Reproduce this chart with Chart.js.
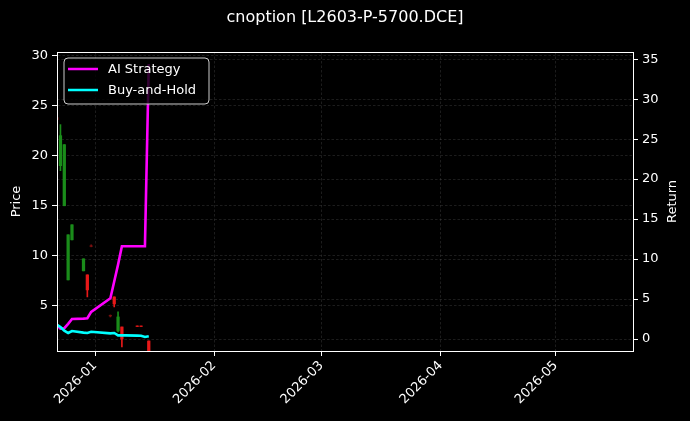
<!DOCTYPE html>
<html><head><meta charset="utf-8">
<script src="https://cdn.jsdelivr.net/npm/chart.js@4.4.1/dist/chart.umd.min.js"></script>
<style>html,body{margin:0;padding:0;background:#000;overflow:hidden}#wrap{width:690px;height:421px}</style>
</head><body><div id="wrap"><canvas id="c" width="690" height="421"></canvas></div>
<script>
// ---- data (day offsets from 2026-01-01) ----
const TITLE = 'cnoption [L2603-P-5700.DCE]';
const SERIES_NAMES = ['AI Strategy', 'Buy-and-Hold'];
const candleDays = [-10, -9, -8, -7, -6, -3, -2, -1, 4, 5, 6, 7, 11, 12, 14];
const opens  = [23.8, 19.0, 15.0, 7.6, 11.6, 8.5, 8.1, 11.0, 4.05, 5.9, 2.5, 2.9, 3.0, 3.0, 1.5];
const highs  = [28.4, 23.1, 21.1, 12.1, 13.1, 9.7, 8.1, 11.1, 4.1, 5.9, 4.4, 2.9, 3.0, 3.0, 1.5];
const lows   = [23.6, 18.5, 15.0, 7.6, 11.6, 8.5, 5.9, 10.9, 3.9, 4.9, 2.4, 0.9, 2.95, 2.95, 0.3];
const closes = [23.6, 22.0, 21.1, 12.1, 13.1, 9.7, 6.6, 10.95, 4.0, 5.2, 3.9, 1.7, 2.95, 2.95, 0.5];
const returnDays = [-10, -9, -8, -7, -6, -3, -2, -1, 4, 5, 6, 7, 8, 11, 12, 13, 14];
const aiReturn = [1.8, 1.3, 1.35, 1.9, 2.5, 2.55, 2.6, 3.4, 5.1, 7.2, 9.3, 11.6, 11.6, 11.6, 11.6, 11.6, 34.4];
const bhReturn = [1.8, 1.5, 1.05, 0.75, 1.0, 0.8, 0.75, 0.9, 0.7, 0.75, 0.45, 0.45, 0.45, 0.42, 0.4, 0.25, 0.35];
const xTickDays = [0, 31, 59, 90, 120];
const xTickLabels = ['2026-01', '2026-02', '2026-03', '2026-04', '2026-05'];
const priceTicks = [5, 10, 15, 20, 25, 30];
const returnTicks = [0, 5, 10, 15, 20, 25, 30, 35];

const UP = '#1a8c1a', DOWN = '#e81818', FAINT = '#7a1010';
const FONT = 'DejaVu Sans';
const candleColors = closes.map((c, i) => {
  const tiny = Math.abs(highs[i] - lows[i]) < 0.3;
  if (tiny && i !== 12 && i !== 13) return FAINT;
  return c >= opens[i] ? UP : DOWN;
});
const bodies = candleDays.map((d, i) => ({x: d, y: [opens[i], closes[i]]}));
const wicks = candleDays.map((d, i) => ({x: d, y: [lows[i], highs[i]]}));
const aiData = returnDays.map((d, i) => ({x: d, y: aiReturn[i]}));
const bhData = returnDays.map((d, i) => ({x: d, y: bhReturn[i]}));

const gridCommon = {color: 'rgba(140,140,140,0.4)', lineWidth: 0.5, tickColor: '#fff', tickLength: 5, tickWidth: 1};
const borderCommon = {color: '#fff', width: 1, dash: [2.5, 2]};

const deco = {
  id: 'deco',
  beforeDraw(chart) {
    const c = chart.ctx;
    c.save(); c.fillStyle = '#000'; c.fillRect(0, 0, chart.width, chart.height); c.restore();
  },
  afterDraw(chart) {
    const c = chart.ctx, a = chart.chartArea;
    c.save();
    c.strokeStyle = '#fff'; c.lineWidth = 1;
    c.strokeRect(Math.round(a.left) + 0.5, Math.round(a.top) + 0.5, Math.round(a.right - a.left), Math.round(a.bottom - a.top));
    c.fillStyle = '#fff'; c.textAlign = 'center'; c.textBaseline = 'middle';
    c.font = '16px "' + FONT + '"';
    c.fillText(TITLE, (a.left + a.right) / 2, 18);
    c.font = '13px "' + FONT + '"';
    const midY = (a.top + a.bottom) / 2;
    c.save(); c.translate(17, midY); c.rotate(-Math.PI / 2); c.fillText('Price', 0, 0); c.restore();
    c.save(); c.translate(673, midY); c.rotate(-Math.PI / 2); c.fillText('Return', 0, 0); c.restore();
    const lx = 64, ly = 58, lw = 145, lh = 46, r = 4;
    c.beginPath();
    c.moveTo(lx + r, ly); c.lineTo(lx + lw - r, ly); c.quadraticCurveTo(lx + lw, ly, lx + lw, ly + r);
    c.lineTo(lx + lw, ly + lh - r); c.quadraticCurveTo(lx + lw, ly + lh, lx + lw - r, ly + lh);
    c.lineTo(lx + r, ly + lh); c.quadraticCurveTo(lx, ly + lh, lx, ly + lh - r);
    c.lineTo(lx, ly + r); c.quadraticCurveTo(lx, ly, lx + r, ly); c.closePath();
    c.fillStyle = 'rgba(0,0,0,0.8)'; c.fill();
    c.strokeStyle = '#cccccc'; c.lineWidth = 1; c.stroke();
    const cols = ['#ff00ff', '#00ffff'];
    const ys = [69, 90];
    c.textAlign = 'left'; c.fillStyle = '#fff';
    SERIES_NAMES.forEach((n, i) => {
      c.strokeStyle = cols[i]; c.lineWidth = 2.5;
      c.beginPath(); c.moveTo(68, ys[i]); c.lineTo(98, ys[i]); c.stroke();
      c.fillText(n, 108, ys[i] + 1);
    });
    c.restore();
  }
};

new Chart(document.getElementById('c'), {
  type: 'bar',
  data: {
    datasets: [
      {type: 'line', label: SERIES_NAMES[1], data: bhData, yAxisID: 'y2', borderColor: '#00ffff', borderWidth: 2.6, pointRadius: 0, tension: 0, order: 0},
      {type: 'line', label: SERIES_NAMES[0], data: aiData, yAxisID: 'y2', borderColor: '#ff00ff', borderWidth: 2.6, pointRadius: 0, tension: 0, order: 1},
      {type: 'bar', label: 'body', data: bodies, yAxisID: 'y', backgroundColor: candleColors, barThickness: 2.6, grouped: false, order: 2},
      {type: 'bar', label: 'wick', data: wicks, yAxisID: 'y', backgroundColor: candleColors, barThickness: 1, grouped: false, order: 3}
    ]
  },
  options: {
    responsive: false, animation: false, devicePixelRatio: 1,
    layout: {padding: {top: 52, left: 0, right: 0, bottom: 0}},
    plugins: {legend: {display: false}, tooltip: {enabled: false}, title: {display: false}},
    scales: {
      x: {
        type: 'linear', min: -9.9, max: 140.1, offset: false,
        grid: Object.assign({offset: false}, gridCommon), border: borderCommon,
        afterBuildTicks: s => { s.ticks = xTickDays.map(v => ({value: v})); },
        afterFit: s => { s.height = 70; },
        ticks: {color: '#fff', font: {family: FONT, size: 13}, minRotation: 45, maxRotation: 45, padding: 2,
          callback: v => { const i = xTickDays.indexOf(v); return i >= 0 ? xTickLabels[i] : ''; }}
      },
      y: {
        type: 'linear', position: 'left', min: 0.5, max: 30.35,
        grid: gridCommon, border: borderCommon,
        afterBuildTicks: s => { s.ticks = priceTicks.map(v => ({value: v})); },
        afterFit: s => { s.width = 57; },
        ticks: {color: '#fff', font: {family: FONT, size: 13}, padding: 4}
      },
      y2: {
        type: 'linear', position: 'right', min: -1.5, max: 35.9,
        grid: gridCommon, border: borderCommon,
        afterBuildTicks: s => { s.ticks = returnTicks.map(v => ({value: v})); },
        afterFit: s => { s.width = 57; },
        ticks: {color: '#fff', font: {family: FONT, size: 13}, padding: 4}
      }
    }
  },
  plugins: [deco]
});
</script></body></html>
